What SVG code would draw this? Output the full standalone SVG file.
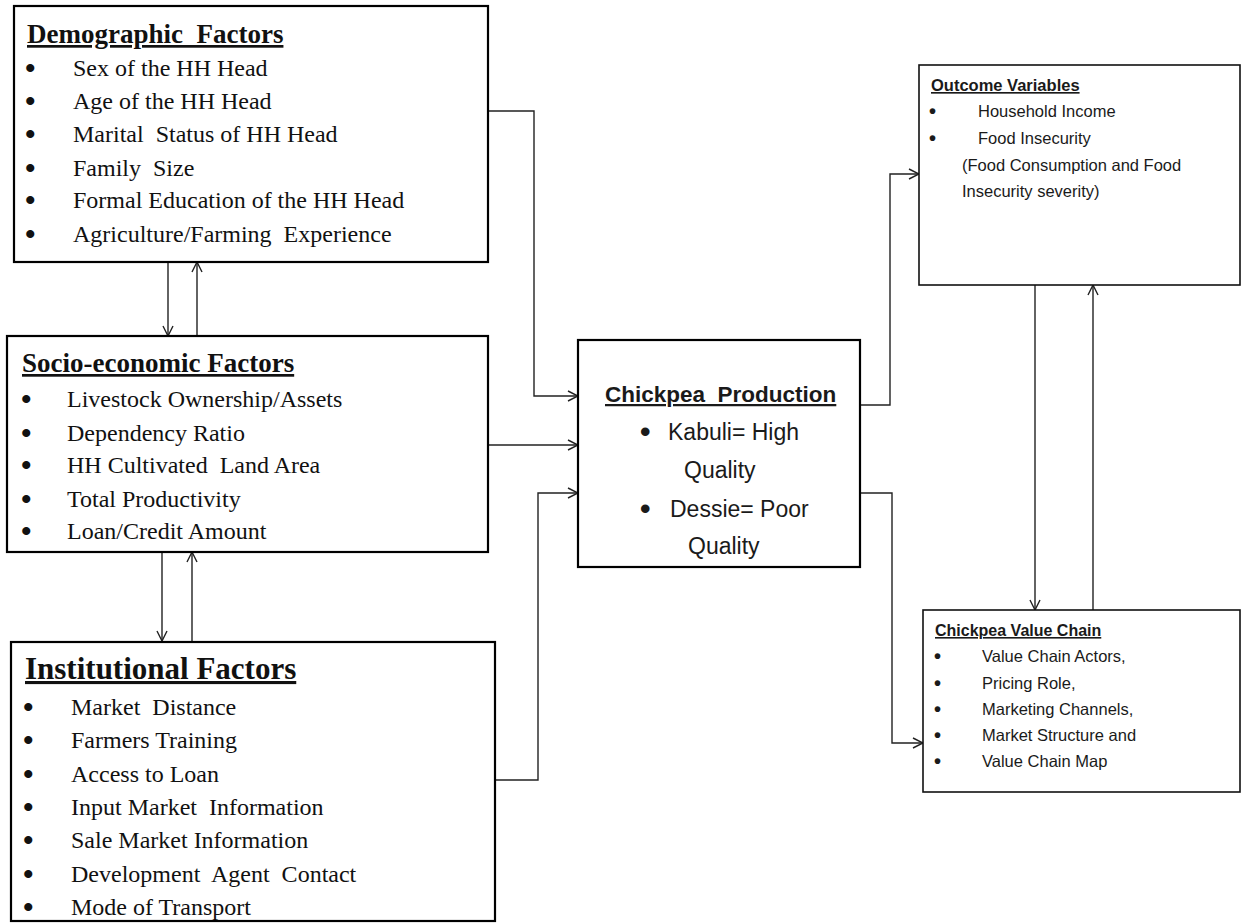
<svg xmlns="http://www.w3.org/2000/svg" width="1243" height="924" viewBox="0 0 1243 924">
<defs>
<marker id="arr" markerUnits="userSpaceOnUse" markerWidth="12" markerHeight="12" refX="11" refY="6" orient="auto">
<path d="M1,1 L11,6 L1,11" fill="none" stroke="#222" stroke-width="1.4"/>
</marker>
<style>
.box{fill:#fff;stroke:#000;stroke-width:2.2}
.box2{fill:#fff;stroke:#111;stroke-width:1.6}
.ser{font-family:"Liberation Serif","Times New Roman",serif;fill:#111}
.sertitle{font-family:"Liberation Serif","Times New Roman",serif;font-weight:bold;text-decoration:underline;fill:#111}
.it{font-size:24px}
.san{font-family:"Liberation Sans",Arial,sans-serif;fill:#1a1a1a}
.santitle{font-family:"Liberation Sans",Arial,sans-serif;font-weight:bold;text-decoration:underline;fill:#1a1a1a}
.con{fill:none;stroke:#222;stroke-width:1.4}
.bl{font-size:30px;font-weight:bold}
.bs{font-size:20px;font-weight:bold}
</style>
</defs>
<rect width="1243" height="924" fill="#fff"/>

<g id="connectors">
<path class="con" d="M488,111 H534 V396 H578" marker-end="url(#arr)"/>
<path class="con" d="M488,445 H578" marker-end="url(#arr)"/>
<path class="con" d="M495,780 H538 V493 H578" marker-end="url(#arr)"/>
<path class="con" d="M860,405 H890 V174 H919" marker-end="url(#arr)"/>
<path class="con" d="M860,493 H892 V743 H923" marker-end="url(#arr)"/>
<path class="con" d="M1035,285 V610" marker-end="url(#arr)"/>
<path class="con" d="M1093,610 V285" marker-end="url(#arr)"/>
<path class="con" d="M168,262 V336" marker-end="url(#arr)"/>
<path class="con" d="M197,336 V262" marker-end="url(#arr)"/>
<path class="con" d="M162,552 V641" marker-end="url(#arr)"/>
<path class="con" d="M192,641 V552" marker-end="url(#arr)"/>
</g>

<g id="demographic">
<rect class="box" x="14" y="6" width="474" height="256"/>
<text class="sertitle" x="27" y="43" font-size="27" xml:space="preserve">Demographic  Factors</text>
<g class="ser it">
<text class="bl" x="25" y="78">•</text><text x="73" y="76">Sex of the HH Head</text>
<text class="bl" x="25" y="111">•</text><text x="73" y="109">Age of the HH Head</text>
<text class="bl" x="25" y="144">•</text><text x="73" y="142" xml:space="preserve">Marital  Status of HH Head</text>
<text class="bl" x="25" y="178">•</text><text x="73" y="176" xml:space="preserve">Family  Size</text>
<text class="bl" x="25" y="210">•</text><text x="73" y="208">Formal Education of the HH Head</text>
<text class="bl" x="25" y="244">•</text><text x="73" y="242" xml:space="preserve">Agriculture/Farming  Experience</text>
</g>
</g>

<g id="socioeconomic">
<rect class="box" x="7" y="336" width="481" height="216"/>
<text class="sertitle" x="22" y="372" font-size="27">Socio-economic Factors</text>
<g class="ser it">
<text class="bl" x="21" y="409">•</text><text x="67" y="407">Livestock Ownership/Assets</text>
<text class="bl" x="21" y="443">•</text><text x="67" y="441">Dependency Ratio</text>
<text class="bl" x="21" y="475">•</text><text x="67" y="473" xml:space="preserve">HH Cultivated  Land Area</text>
<text class="bl" x="21" y="509">•</text><text x="67" y="507">Total Productivity</text>
<text class="bl" x="21" y="541">•</text><text x="67" y="539">Loan/Credit Amount</text>
</g>
</g>

<g id="institutional">
<rect class="box" x="11" y="642" width="484" height="279"/>
<text class="sertitle" x="25" y="679" font-size="31">Institutional Factors</text>
<g class="ser it">
<text class="bl" x="23" y="717">•</text><text x="71" y="715" xml:space="preserve">Market  Distance</text>
<text class="bl" x="23" y="750">•</text><text x="71" y="748">Farmers Training</text>
<text class="bl" x="23" y="784">•</text><text x="71" y="782">Access to Loan</text>
<text class="bl" x="23" y="817">•</text><text x="71" y="815" xml:space="preserve">Input Market  Information</text>
<text class="bl" x="23" y="850">•</text><text x="71" y="848">Sale Market Information</text>
<text class="bl" x="23" y="884">•</text><text x="71" y="882" xml:space="preserve">Development  Agent  Contact</text>
<text class="bl" x="23" y="917">•</text><text x="71" y="915">Mode of Transport</text>
</g>
</g>

<g id="production">
<rect class="box" x="578" y="340" width="282" height="227"/>
<text class="santitle" x="605" y="402" font-size="22.5" xml:space="preserve">Chickpea  Production</text>
<g class="san" font-size="23">
<text class="bl" x="640" y="442">•</text><text x="668" y="440">Kabuli= High</text>
<text x="684" y="478">Quality</text>
<text class="bl" x="640" y="519">•</text><text x="670" y="517">Dessie= Poor</text>
<text x="688" y="554">Quality</text>
</g>
</g>

<g id="outcome">
<rect class="box2" x="919" y="65" width="321" height="220"/>
<text class="santitle" x="931" y="91" font-size="16.5">Outcome Variables</text>
<g class="san" font-size="16.5">
<text class="bs" x="929" y="118">•</text><text x="978" y="117">Household Income</text>
<text class="bs" x="929" y="145">•</text><text x="978" y="144">Food Insecurity</text>
<text x="962" y="171">(Food Consumption and Food</text>
<text x="962" y="197">Insecurity severity)</text>
</g>
</g>

<g id="valuechain">
<rect class="box2" x="923" y="610" width="317" height="182"/>
<text class="santitle" x="935" y="636" font-size="16">Chickpea Value Chain</text>
<g class="san" font-size="16.5">
<text class="bs" x="934" y="663">•</text><text x="982" y="662">Value Chain Actors,</text>
<text class="bs" x="934" y="690">•</text><text x="982" y="689">Pricing Role,</text>
<text class="bs" x="934" y="716">•</text><text x="982" y="715">Marketing Channels,</text>
<text class="bs" x="934" y="742">•</text><text x="982" y="741">Market Structure and</text>
<text class="bs" x="934" y="768">•</text><text x="982" y="767">Value Chain Map</text>
</g>
</g>
</svg>
